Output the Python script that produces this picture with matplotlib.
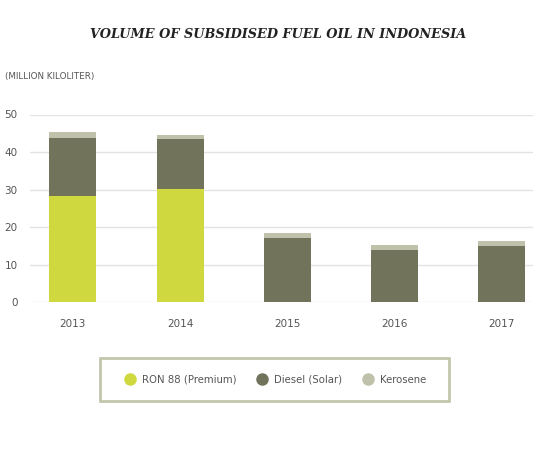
import numpy as np
import matplotlib.pyplot as plt
from matplotlib.lines import Line2D
from matplotlib.patches import Rectangle

years = ['2013', '2014', '2015', '2016', '2017']
ron88 = [28.3, 30.1, 0, 0, 0]
diesel = [15.4, 13.3, 17.1, 13.9, 15.0]
kerosene = [1.6, 1.1, 1.3, 1.3, 1.3]
series_labels = ['RON 88 (Premium)', 'Diesel (Solar)', 'Kerosene']

c_ron = '#cfd93f'
c_diesel = '#72735b'
c_kero = '#bfc1aa'
txt = '#555555'

fig = plt.figure(figsize=(5.49, 4.5), dpi=100)
ax = fig.add_axes([30/549, 1-302.3/450, 503/549, 187.8/450])

x = np.arange(len(years))
w = 0.44
ron = np.array(ron88)
dsl = np.array(diesel)
ax.bar(x, ron, w, color=c_ron, zorder=2)
ax.bar(x, dsl, w, bottom=ron, color=c_diesel, zorder=2)
ax.bar(x, kerosene, w, bottom=ron+dsl, color=c_kero, zorder=2)

ax.set_xlim(-0.40, 4.29)
ax.set_ylim(0, 50)
ax.set_yticks([0, 10, 20, 30, 40, 50])
ax.set_xticks(x)
ax.set_xticklabels(years)
ax.grid(axis='y', color='#e3e3e3', linewidth=1, zorder=0)
for s in ax.spines.values():
    s.set_visible(False)
ax.tick_params(length=0, labelsize=7.5, labelcolor=txt)
ax.tick_params(axis='x', pad=12)
ax.tick_params(axis='y', pad=9)

fig.text(278/549, 1-35/450, 'VOLUME OF SUBSIDISED FUEL OIL IN INDONESIA',
         ha='center', va='center', family='DejaVu Serif', style='italic',
         weight='bold', fontsize=9.3, color='#222222')
fig.text(5/549, 1-76/450, '(MILLION KILOLITER)', ha='left', va='center',
         fontsize=6.3, color=txt)

# legend box
fig.patches.append(Rectangle((100/549, 1-401/450), 349/549, 43/450,
                             transform=fig.transFigure, fill=False,
                             edgecolor='#c3c5ad', linewidth=2))
handles = [Line2D([], [], marker='o', linestyle='none', markersize=8,
                  markerfacecolor=c, markeredgecolor=c)
           for c in (c_ron, c_diesel, c_kero)]
fig.legend(handles, series_labels, loc='center', ncol=3,
           bbox_to_anchor=(275/549, 1-380/450), frameon=False,
           fontsize=7.3, labelcolor=txt, handletextpad=0.6,
           columnspacing=1.9, handlelength=1.2)

fig.savefig('out.png', dpi=100)
